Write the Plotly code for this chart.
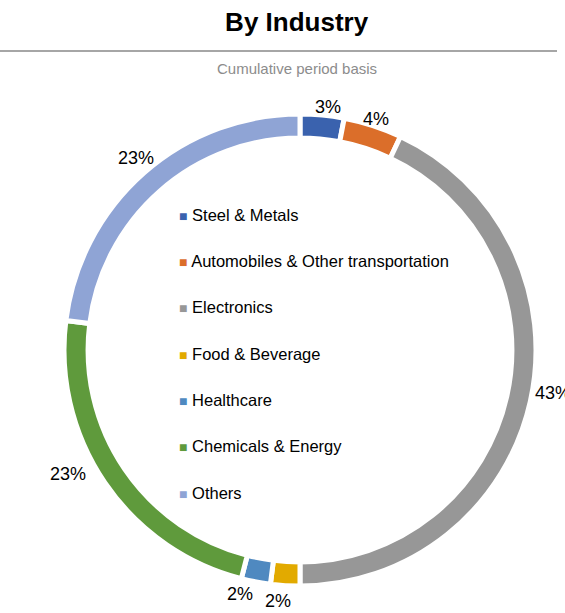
import math
import plotly.graph_objects as go

# Share of total by industry (cumulative period basis)
industries = [
    "Steel & Metals",
    "Automobiles & Other transportation",
    "Electronics",
    "Food & Beverage",
    "Healthcare",
    "Chemicals & Energy",
    "Others",
]
shares = [3, 4, 43, 2, 2, 23, 23]
colors = ["#3A62AE", "#DB6E2A", "#979797", "#E2AA00", "#4F89C0", "#5F9A3C", "#8FA4D5"]

W, H = 565, 613
FONT = "Liberation Sans, Arial, sans-serif"

# ring geometry in pixels
CX, CY, R = 300, 350, 236
LABEL_SIZE = 18
# small hand nudges (px) so labels clear their neighbours
label_nudge = [(5, 4), (-1, 7), (0, -13), (-6, 4), (-13, -1), (-18, -21), (6, 1)]

fig = go.Figure()

fig.add_trace(go.Pie(
    labels=industries,
    values=shares,
    sort=False,
    direction="clockwise",
    rotation=0,
    hole=0.898,
    marker=dict(colors=colors, line=dict(color="white", width=5)),
    textinfo="none",
    showlegend=False,
    hoverinfo="label+value",
    domain=dict(x=[(CX - R) / W, (CX + R) / W],
                y=[(H - CY - R) / H, (H - CY + R) / H]),
))

# Percentage labels just outside each slice, at the slice's mid angle
total = sum(shares)
annotations = []
cum = 0.0
for v, (nx, ny) in zip(shares, label_nudge):
    mid = (cum + v / 2) / total * 2 * math.pi
    cum += v
    s, c = math.sin(mid), math.cos(mid)
    label = f"{v}%"
    hw = (0.556 * (len(label) - 1) + 0.889) * 17 / 2
    hh = 0.36 * 17
    r = R + 5 + hw * abs(s) + hh * abs(c)
    px, py = CX + r * s + nx, CY - r * c + ny
    annotations.append(dict(
        text=label, xref="paper", yref="paper", x=px / W, y=1 - py / H,
        xanchor="center", yanchor="middle", showarrow=False,
        font=dict(family=FONT, size=LABEL_SIZE, color="#000000"),
    ))

annotations.append(dict(
    text="Cumulative period basis", xref="paper", yref="paper",
    x=297 / W, y=1 - 68 / H, xanchor="center", yanchor="middle",
    showarrow=False, font=dict(family=FONT, size=15, color="#8C8C8C"),
))

# Legend entries (one group each so spacing can be opened up);
# the colour key is a small square glyph placed right before the name
for name, col in zip(industries, colors):
    fig.add_trace(go.Scatter(
        x=[None], y=[None], mode="markers",
        name=f"<span style='color:{col};font-size:14px'>■</span> {name}",
        marker=dict(symbol="square", size=1, color="rgba(0,0,0,0)"),
        legendgroup=name, showlegend=True,
    ))

fig.update_layout(
    width=W, height=H,
    margin=dict(l=0, r=0, t=0, b=0),
    paper_bgcolor="white", plot_bgcolor="white",
    xaxis=dict(visible=False), yaxis=dict(visible=False),
    title=dict(text="<b>By Industry</b>", x=0.525, xanchor="center",
               y=1 - 22 / H, yanchor="middle",
               font=dict(family=FONT, size=26, color="#000000")),
    legend=dict(x=139 / W, y=1 - 197 / H, xanchor="left", yanchor="top",
                font=dict(family=FONT, size=16.5, color="#000000"),
                tracegroupgap=21.9, itemwidth=30, bgcolor="rgba(0,0,0,0)"),
    shapes=[dict(type="line", xref="paper", yref="paper",
                 x0=0, x1=557 / W, y0=1 - 51 / H, y1=1 - 51 / H,
                 line=dict(color="#A6A6A6", width=2))],
    annotations=annotations,
)

fig.write_html("out.html")
